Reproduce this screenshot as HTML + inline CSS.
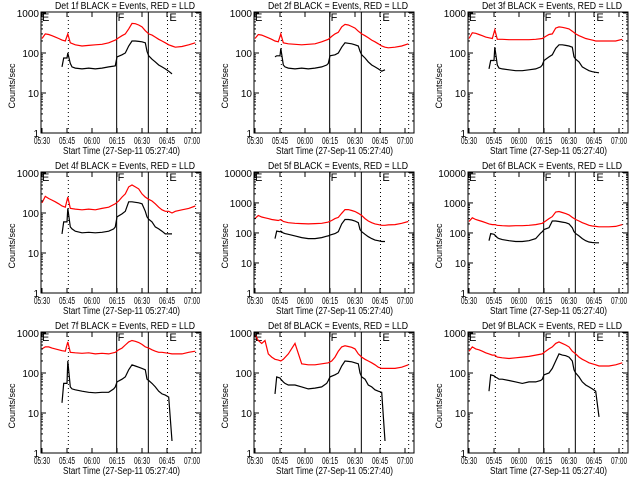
<!DOCTYPE html>
<html><head><meta charset="utf-8">
<style>
html,body{margin:0;padding:0;background:#fff;}
svg{display:block;font-family:"Liberation Sans",sans-serif;}
</style></head>
<body>
<svg id="chart" width="640" height="480" viewBox="0 0 640 480" xmlns="http://www.w3.org/2000/svg">
<rect width="640" height="480" fill="#fff"/>
</svg>
<script>
// time in minutes after 05:30
const redTimes = [0,2,4,6,8,10,12,14,15.5,17,20,24,28,32,36,40,44,46,48,50,52,54,56,58,60,62,64,66,68,70,72,74,76,78,80,84,88,92];
const blackTimes = [12,13,15,15.5,17,18,20,24,28,32,36,40,43,44,45,48,50,52,54,56,58,60,62,63,64,66,68,70,72,74,76,78];
const detNames = ["1f","2f","3f","4f","5f","6f","7f","8f","9f"];
const yMaxDecade = [3,3,3,3,4,4,3,3,3];
const xTickLabels = ["05:30","05:45","06:00","06:15","06:30","06:45","07:00"];
const xTickMinutes = [0,15,30,45,60,75,90];
const solidLines = [44.8,63.8];
const dottedLines = [15.8,75.3,92.2];
const red1 = [230,300,290,270,250,230,210,200,300,180,160,150,155,160,165,180,210,240,270,300,400,550,540,500,450,360,300,280,250,220,200,180,160,150,140,145,160,180];
const black1 = [45,75,75,100,55,45,42,40,42,40,42,45,47,48,80,90,100,150,200,200,195,190,180,110,85,70,60,50,45,40,35,30];
const red2 = [230,290,280,260,240,220,200,190,300,180,170,165,160,165,170,190,220,260,300,330,450,520,500,460,420,350,300,270,240,210,190,170,150,140,135,140,150,170];
const black2 = [80,85,85,130,50,45,42,40,42,40,42,45,50,55,85,90,100,140,180,175,170,160,150,110,90,75,60,50,45,40,35,38];
const red3 = [230,320,310,290,270,250,240,230,380,220,220,215,215,215,215,220,230,260,290,300,420,450,440,420,400,350,300,270,250,230,220,210,200,200,200,200,200,220];
const black3 = [40,65,65,140,50,42,40,38,36,36,38,40,45,50,65,80,90,130,160,160,155,150,140,80,70,60,45,40,36,34,33,32];
const red4 = [180,260,230,210,190,170,150,140,250,130,125,120,125,120,130,140,170,200,250,300,450,500,450,400,300,250,220,200,170,140,120,110,110,100,110,120,130,150];
const black4 = [30,60,60,130,45,40,35,32,33,32,33,35,40,45,80,95,110,190,190,185,180,170,110,80,70,60,45,40,35,30,30,30];
const red5 = [300,380,340,320,300,280,270,260,280,240,220,210,205,200,205,210,230,260,300,330,450,600,600,560,520,450,380,300,250,220,200,190,180,180,185,190,210,240];
const black5 = [65,115,110,115,100,95,90,80,70,65,65,70,78,80,85,95,110,200,280,280,270,250,220,130,110,90,75,65,58,55,52,52];
const red6 = [240,320,280,260,240,220,200,190,190,180,175,170,175,175,180,190,210,250,300,350,500,520,480,440,400,330,280,250,220,200,180,170,165,160,160,160,165,190];
const black6 = [55,95,90,85,70,65,60,55,52,52,55,65,100,110,130,150,250,250,240,230,220,200,150,110,95,80,65,55,50,48,47,47];
const red7 = [400,450,450,420,400,380,360,350,600,330,320,310,320,300,310,300,330,380,420,500,600,650,620,580,520,450,420,380,350,330,330,320,310,300,300,300,330,350];
const black7 = [18,55,55,200,45,40,38,35,33,32,33,33,40,45,60,70,80,120,160,150,140,130,120,70,65,55,45,35,30,28,25,2];
const red8 = [900,650,550,650,300,250,220,210,200,220,300,550,170,160,160,170,180,200,250,350,450,480,460,440,400,300,250,220,200,180,160,140,130,130,130,130,140,160];
const black8 = [30,80,75,70,60,55,50,50,45,40,42,45,55,65,80,90,100,150,200,195,190,180,170,100,80,70,50,45,38,35,33,2];
const red9 = [350,450,400,380,350,320,300,280,280,250,240,230,240,250,260,280,300,350,400,450,550,600,550,500,450,350,300,250,220,200,180,170,160,150,150,150,160,180];
const black9 = [35,90,85,80,75,70,70,65,60,55,60,60,65,70,90,100,130,200,300,280,270,250,200,120,100,80,60,50,45,40,35,8];
const redSeries = [red1,red2,red3,red4,red5,red6,red7,red8,red9];
const blackSeries = [black1,black2,black3,black4,black5,black6,black7,black8,black9];

const NS = "http://www.w3.org/2000/svg";
const svg = document.getElementById("chart");
function mk(tag, attrs, parent){
  const e = document.createElementNS(NS, tag);
  for (const k in attrs) e.setAttribute(k, attrs[k]);
  (parent||svg).appendChild(e);
  return e;
}
const colX = [0,213,427], rowY = [0,160,320];
const BL = 41, BR = 201, BT = 12, BB = 133;
const T0 = -0.6, T1 = 95.4;

for (let p = 0; p < 9; p++) {
  const ox = colX[p%3], oy = rowY[Math.floor(p/3)];
  const g = mk("g", {});
  
  
  const dec = yMaxDecade[p];
  const logTop = dec + (dec === 3 ? 0.025 : 0.03);
  const xs = t => ox + BL + (t - T0) / (T1 - T0) * (BR - BL);
  const ys = v => oy + BB - (Math.log10(Math.max(v, 1))) / logTop * (BB - BT);

  const title = mk("text", {x: ox+55, y: oy+9, "font-size":"10", textLength:"140", lengthAdjust:"spacingAndGlyphs"}, g);
  title.textContent = "Det " + detNames[p] + " BLACK = Events, RED = LLD";
  
  

  solidLines.forEach(t => {
    const l = mk("line", {x1: xs(t), x2: xs(t), y1: oy+BT, y2: oy+BB, stroke:"#000", "stroke-width":1}, g);
    
    
  });
  dottedLines.forEach(t => {
    const l = mk("line", {x1: xs(t), x2: xs(t), y1: oy+BT, y2: oy+BB, stroke:"#000", "stroke-width":1, "stroke-dasharray":"1,3"}, g);
    
    
  });
  [["E",-0.6],["F",44.8],["E",75.8]].forEach(([s,t]) => {
    const tx = mk("text", {x: xs(t)+1, y: oy+BT+9, "font-size":"11"}, g);
    tx.textContent = s;
    
    
  });

  const redPts = redTimes.map((t,i) => xs(t).toFixed(1)+","+ys(redSeries[p][i]).toFixed(1)).join(" ");
  const rl = mk("polyline", {points: redPts, fill:"none", stroke:"#ff0000", "stroke-width":1.2}, g);
  
  
  const blkPts = blackTimes.map((t,i) => xs(t).toFixed(1)+","+ys(blackSeries[p][i]).toFixed(1)).join(" ");
  const bl = mk("polyline", {points: blkPts, fill:"none", stroke:"#000", "stroke-width":1.2}, g);
  
  

  const box = mk("rect", {x: ox+BL, y: oy+BT, width: BR-BL, height: BB-BT, fill:"none", stroke:"#000", "stroke-width":1}, g);
  
  

  for (let d = 0; d <= dec; d++) {
    const y = ys(Math.pow(10,d));
    mk("line", {x1: ox+BL, x2: ox+BL+5, y1: y, y2: y, stroke:"#000"}, g);
    mk("line", {x1: ox+BR, x2: ox+BR-5, y1: y, y2: y, stroke:"#000"}, g);
    const lab = mk("text", {x: ox+BL-2, y: y+4, "text-anchor":"end", "font-size":"10"}, g);
    lab.textContent = String(Math.pow(10,d));
    
    
    if (d < dec) for (let m = 2; m <= 9; m++) {
      const ym = ys(m*Math.pow(10,d));
      mk("line", {x1: ox+BL, x2: ox+BL+2, y1: ym, y2: ym, stroke:"#000"}, g);
      mk("line", {x1: ox+BR, x2: ox+BR-2, y1: ym, y2: ym, stroke:"#000"}, g);
    }
  }
  xTickMinutes.forEach((t,i) => {
    const x = xs(t);
    mk("line", {x1: x, x2: x, y1: oy+BB, y2: oy+BB-5, stroke:"#000"}, g);
    mk("line", {x1: x, x2: x, y1: oy+BT, y2: oy+BT+5, stroke:"#000"}, g);
    const lab = mk("text", {x: x-8, y: oy+BB+11, "font-size":"10", textLength:"16", lengthAdjust:"spacingAndGlyphs"}, g);
    lab.textContent = xTickLabels[i];
    
    
  });
  const xt = mk("text", {x: ox+63, y: oy+BB+21, "font-size":"10", textLength:"117", lengthAdjust:"spacingAndGlyphs"}, g);
  xt.textContent = "Start Time (27-Sep-11 05:27:40)";
  
  
  const yt = mk("text", {x: 0, y: 0, "text-anchor":"middle", "font-size":"9", transform: "translate("+(ox+15)+","+(oy+86)+") rotate(-90)"}, g);
  yt.textContent = "Counts/sec";
  
  
}
</script>
</body></html>
